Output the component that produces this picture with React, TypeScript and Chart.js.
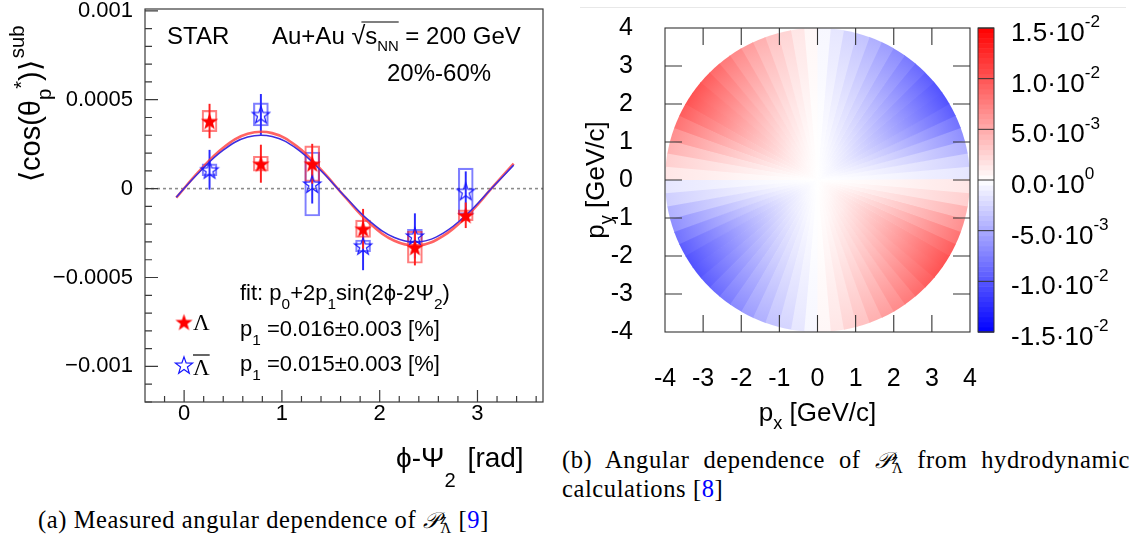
import React, { useEffect, useRef } from 'react';
import { Chart, registerables } from 'chart.js';

Chart.register(...registerables);

const SANS = '"Liberation Sans", Arial, Helvetica, sans-serif';
const SERIF = '"Liberation Serif", "Times New Roman", serif';

// ---------------- Panel (a): measured data ----------------
const PHI = [0.26, 0.785, 1.31, 1.83, 2.36, 2.88];
const LAMBDA = [0.00038, 0.00014, 0.00014, -0.000226, -0.00033, -0.00015];
const LAMBDA_STAT = [0.000095, 0.000105, 0.00011, 0.00011, 0.0001, 0.00007];
const LAMBDA_SYS = [0.00006, 0.000042, 0.0001, 0.000049, 0.00009, 0.00003];
const ALAMBDA = [0.000106, 0.000417, 0.000026, -0.000322, -0.000266, -0.000015];
const ALAMBDA_STAT = [0.00011, 0.000113, 0.000108, 0.000135, 0.000125, 0.00011];
const ALAMBDA_SYS = [0.000033, 0.000065, 0.00018, 0.000033, 0.000037, 0.00013];
const FIT_PHI = [-0.08, 0.15, 0.4, 0.65, 0.9, 1.15, 1.4, 1.65, 1.9, 2.15, 2.4, 2.65, 2.9, 3.15, 3.37];
const FIT_LAMBDA = [-0.000051, 0.000095, 0.00023, 0.000308, 0.000312, 0.000239, 0.000107, -0.00005, -0.000196, -0.000293, -0.000319, -0.000266, -0.000149, 0.000005, 0.00014];
const FIT_ALAMBDA = [-0.000048, 0.000089, 0.000216, 0.00029, 0.000293, 0.000225, 0.0001, -0.000047, -0.000184, -0.000275, -0.0003, -0.00025, -0.00014, 0.000005, 0.000132];
const A_Y_TICKS = [-0.001, -0.0005, 0, 0.0005, 0.001];
const A_Y_LABELS = ['\u22120.001', '\u22120.0005', '0', '0.0005', '0.001'];
const A_X_TICKS = [0, 1, 2, 3];
const A_X_LABELS = ['0', '1', '2', '3'];

// ---------------- Panel (b): hydro calculation ----------------
const P_TICKS = [-4, -3, -2, -1, 0, 1, 2, 3, 4];
const P_LABELS = ['-4', '-3', '-2', '-1', '0', '1', '2', '3', '4'];
// start angle (deg) of each 5-degree wedge in the upper half plane; the lower half repeats (180 deg symmetry)
const WEDGE_DEG = [0, 5, 10, 15, 20, 25, 30, 35, 40, 45, 50, 55, 60, 65, 70, 75, 80, 85,
  90, 95, 100, 105, 110, 115, 120, 125, 130, 135, 140, 145, 150, 155, 160, 165, 170, 175];
// polarization at the rim (p_T = 4 GeV/c) for each wedge
const EDGE_POL = [-0.0015, -0.0028, -0.0046, -0.0066, -0.0083, -0.0096, -0.0102, -0.0101, -0.0096, -0.0088, -0.0079, -0.0069, -0.0058, -0.0047, -0.0036, -0.0025, -0.0015, -0.0005,
  0.0005, 0.0015, 0.0025, 0.0036, 0.0047, 0.0058, 0.0069, 0.0079, 0.0088, 0.0096, 0.0101, 0.0102, 0.0096, 0.0083, 0.0066, 0.0046, 0.0028, 0.0015];
const RADIAL_R = [0, 0.5, 1, 1.5, 2, 2.5, 3, 3.5, 4];
const RADIAL_F = [0, 0.06, 0.15, 0.27, 0.4, 0.54, 0.69, 0.84, 1.0];
const CB_TICKS = [0.015, 0.01, 0.005, 0, -0.005, -0.01, -0.015];
const CB_MANT = ['1.5\u00b710', '1.0\u00b710', '5.0\u00b710', '0.0\u00b710', '-5.0\u00b710', '-1.0\u00b710', '-1.5\u00b710'];
const CB_EXP = ['-2', '-2', '-3', '0', '-3', '-2', '-2'];

type Seg = { t: string; s?: number; dy?: number; f?: string; gap?: number };

function richWidth(ctx: CanvasRenderingContext2D, segs: Seg[], size: number, family: string) {
  let w = 0;
  for (const g of segs) {
    ctx.font = `${size * (g.s ?? 1)}px ${g.f ?? family}`;
    w += ctx.measureText(g.t).width + (g.gap ?? 0);
  }
  return w;
}

function rich(ctx: CanvasRenderingContext2D, x: number, y: number, segs: Seg[], size: number, family: string) {
  const xs: number[] = [];
  let cx = x;
  for (const g of segs) {
    const sz = size * (g.s ?? 1);
    ctx.font = `${sz}px ${g.f ?? family}`;
    cx += g.gap ?? 0;
    xs.push(cx);
    ctx.fillText(g.t, cx, y + (g.dy ?? 0) * size);
    cx += ctx.measureText(g.t).width;
  }
  xs.push(cx);
  return xs;
}

function makeStar(size: number, R: number, fill: string | null, stroke: string | null, lw: number) {
  const c = document.createElement('canvas');
  c.width = size;
  c.height = size;
  const g = c.getContext('2d')!;
  const cx = size / 2;
  const cy = size / 2 + R * 0.1;
  const r = R * 0.4;
  g.beginPath();
  for (let k = 0; k < 10; k++) {
    const a = -Math.PI / 2 + (k * Math.PI) / 5;
    const rr = k % 2 === 0 ? R : r;
    g.lineTo(cx + rr * Math.cos(a), cy + rr * Math.sin(a));
  }
  g.closePath();
  if (fill) {
    g.fillStyle = fill;
    g.fill();
  }
  if (stroke) {
    g.strokeStyle = stroke;
    g.lineWidth = lw;
    g.stroke();
  }
  return c;
}

function polColor(v: number) {
  const max = CB_TICKS[0];
  const t = Math.max(-1, Math.min(1, v / max));
  if (t >= 0) {
    const c = Math.round(255 * (1 - t));
    return `rgb(255,${c},${c})`;
  }
  const c = Math.round(255 * (1 + t));
  return `rgb(${c},${c},255)`;
}

function makeChartA(canvas: HTMLCanvasElement) {
  const redStar = makeStar(21, 9, '#ff0000', null, 0);
  const blueStar = makeStar(22, 9, null, '#1515ff', 1.2);

  const framePlugin = {
    id: 'frameA',
    beforeDatasetsDraw(chart: any) {
      const { ctx, chartArea: a, scales } = chart;
      const y0 = scales.y.getPixelForValue(0);
      ctx.save();
      ctx.strokeStyle = '#8c8c8c';
      ctx.lineWidth = 1.6;
      ctx.setLineDash([3, 3]);
      ctx.beginPath();
      ctx.moveTo(a.left, y0);
      ctx.lineTo(a.right, y0);
      ctx.stroke();
      ctx.restore();
    },
    afterDraw(chart: any) {
      const { ctx, chartArea: a, scales } = chart;
      const { x, y } = scales;
      ctx.save();
      ctx.strokeStyle = '#3a3a3a';
      ctx.lineWidth = 1.2;
      ctx.strokeRect(a.left, a.top, a.right - a.left, a.bottom - a.top);
      ctx.beginPath();
      for (let k = -12; k <= 10; k++) {
        const py = y.getPixelForValue(k * 0.0001);
        const len = k % 5 === 0 ? 13 : 7;
        ctx.moveTo(a.left, py);
        ctx.lineTo(a.left + len, py);
      }
      for (let k = -2; k <= 18; k++) {
        const px = x.getPixelForValue(k * 0.2);
        if (px < a.left + 1 || px > a.right - 1) continue;
        const len = k % 5 === 0 ? 12 : 6;
        ctx.moveTo(px, a.bottom);
        ctx.lineTo(px, a.bottom - len);
      }
      ctx.stroke();

      // texts
      ctx.fillStyle = '#000';
      ctx.textBaseline = 'alphabetic';
      ctx.textAlign = 'left';
      rich(ctx, 167, 44, [{ t: 'STAR' }], 24, SANS);
      const xs = rich(ctx, 272, 44, [{ t: 'Au+Au ' }, { t: '\u221a', s: 1.05 }, { t: 's' }, { t: 'NN', s: 0.62, dy: 0.3 }, { t: ' = 200 GeV' }], 24, SANS);
      ctx.lineWidth = 1.1;
      ctx.strokeStyle = '#000';
      ctx.beginPath();
      ctx.moveTo(xs[1] + 10, 22);
      ctx.lineTo(xs[4], 22);
      ctx.stroke();
      rich(ctx, 387, 81, [{ t: '20%-60%' }], 24, SANS);
      rich(ctx, 240, 300, [{ t: 'fit: p' }, { t: '0', s: 0.7, dy: 0.42 }, { t: '+2p' }, { t: '1', s: 0.7, dy: 0.42 }, { t: 'sin(2\u03d5-2\u03a8' }, { t: '2', s: 0.7, dy: 0.42 }, { t: ')' }], 22, SANS);
      ctx.drawImage(redStar, 184 - redStar.width / 2, 322 - redStar.height / 2);
      rich(ctx, 193, 330, [{ t: '\u039b' }], 23, SERIF);
      rich(ctx, 240, 336, [{ t: 'p' }, { t: '1', s: 0.7, dy: 0.42 }, { t: ' =0.016\u00b10.003 [%]' }], 22, SANS);
      ctx.drawImage(blueStar, 184 - blueStar.width / 2, 365 - blueStar.height / 2);
      const lx = rich(ctx, 193, 375, [{ t: '\u039b' }], 23, SERIF);
      ctx.lineWidth = 1.2;
      ctx.beginPath();
      ctx.moveTo(lx[0], 355);
      ctx.lineTo(lx[1], 355);
      ctx.stroke();
      rich(ctx, 240, 371, [{ t: 'p' }, { t: '1', s: 0.7, dy: 0.42 }, { t: ' =0.015\u00b10.003 [%]' }], 22, SANS);

      // x title
      rich(ctx, 396, 467, [{ t: '\u03d5-\u03a8' }, { t: '2', s: 0.72, dy: 0.7 }, { t: '[rad]', gap: 12 }], 28, SANS);
      // y title
      ctx.save();
      ctx.translate(40, 182);
      ctx.rotate(-Math.PI / 2);
      rich(ctx, 0, 0, [{ t: '\u27e8cos(\u03b8' }, { t: 'p', s: 0.7, dy: 0.38 }, { t: '*', s: 0.7, dy: -0.42 }, { t: ')\u27e9' }, { t: 'sub', s: 0.7, dy: -0.55, gap: 2 }], 29, SANS);
      ctx.restore();
      ctx.restore();
    },
  };

  const pts = (ys: number[]) => PHI.map((x, i) => ({ x, y: ys[i] }));
  const rng = (ys: number[], es: number[]) => PHI.map((x, i) => ({ x, y: [ys[i] - es[i], ys[i] + es[i]] }));

  return new Chart(canvas, {
    type: 'scatter',
    data: {
      datasets: [
        { type: 'scatter', data: pts(LAMBDA), pointStyle: redStar as any, pointRadius: 8, order: 0 } as any,
        { type: 'scatter', data: pts(ALAMBDA), pointStyle: blueStar as any, pointRadius: 8, order: 0 } as any,
        { type: 'line', data: FIT_PHI.map((x, i) => ({ x, y: FIT_ALAMBDA[i] })), borderColor: '#3b2de0', borderWidth: 1.5, pointRadius: 0, tension: 0.4, fill: false, order: 1 } as any,
        { type: 'line', data: FIT_PHI.map((x, i) => ({ x, y: FIT_LAMBDA[i] })), borderColor: 'rgba(255,60,60,0.8)', borderWidth: 2.6, pointRadius: 0, tension: 0.4, fill: false, order: 2 } as any,
        { type: 'bar', data: rng(LAMBDA, LAMBDA_STAT), backgroundColor: '#ff2020', barThickness: 1.3, grouped: false, borderWidth: 0, order: 3 } as any,
        { type: 'bar', data: rng(ALAMBDA, ALAMBDA_STAT), backgroundColor: '#2a2aff', barThickness: 1.3, grouped: false, borderWidth: 0, order: 3 } as any,
        { type: 'bar', data: rng(LAMBDA, LAMBDA_SYS), backgroundColor: 'rgba(0,0,0,0)', borderColor: 'rgba(255,0,0,0.5)', borderWidth: 1.5, borderSkipped: false, barThickness: 15, grouped: false, order: 4 } as any,
        { type: 'bar', data: rng(ALAMBDA, ALAMBDA_SYS), backgroundColor: 'rgba(0,0,0,0)', borderColor: 'rgba(0,0,255,0.5)', borderWidth: 1.5, borderSkipped: false, barThickness: 15, grouped: false, order: 4 } as any,
      ],
    },
    options: {
      responsive: false,
      animation: false,
      events: [],
      layout: { padding: { top: 7, right: 17, left: 0, bottom: 0 } },
      plugins: { legend: { display: false }, tooltip: { enabled: false } },
      scales: {
        x: {
          type: 'linear',
          min: -0.4,
          max: 3.67,
          offset: false,
          grid: { display: false },
          border: { display: false },
          afterBuildTicks: (s: any) => { s.ticks = A_X_TICKS.map((v) => ({ value: v })); },
          afterFit: (s: any) => { s.height = 98; s.paddingLeft = 0; s.paddingRight = 0; },
          ticks: {
            autoSkip: false,
            maxRotation: 0,
            padding: -9,
            color: '#000',
            font: { family: SANS, size: 22 },
            callback: (v: any) => A_X_LABELS[A_X_TICKS.indexOf(v)],
          },
        },
        y: {
          type: 'linear',
          min: -0.0012,
          max: 0.00101,
          grid: { display: false },
          border: { display: false },
          afterBuildTicks: (s: any) => { s.ticks = A_Y_TICKS.map((v) => ({ value: v })); },
          afterFit: (s: any) => { s.width = 145; s.paddingTop = 0; s.paddingBottom = 0; },
          ticks: {
            padding: 4,
            color: '#000',
            font: { family: SANS, size: 22 },
            callback: (v: any) => A_Y_LABELS[A_Y_TICKS.indexOf(v)],
          },
        },
      },
    },
    plugins: [framePlugin],
  } as any);
}

function makeChartB(canvas: HTMLCanvasElement) {
  const diskPlugin = {
    id: 'disk',
    beforeDatasetsDraw(chart: any) {
      const { ctx, scales } = chart;
      const { x, y } = scales;
      const rMax = RADIAL_R[RADIAL_R.length - 1];
      const cx = x.getPixelForValue(0);
      const cy = y.getPixelForValue(0);
      const rx = x.getPixelForValue(rMax) - cx;
      const ry = cy - y.getPixelForValue(rMax);
      const step = WEDGE_DEG[1] - WEDGE_DEG[0];
      ctx.save();
      for (let half = 0; half < 2; half++) {
        WEDGE_DEG.forEach((d0, i) => {
          const a0 = ((d0 + 180 * half) * Math.PI) / 180;
          const a1 = ((d0 + step + 180 * half) * Math.PI) / 180;
          const g = ctx.createRadialGradient(cx, cy, 0, cx, cy, rx);
          RADIAL_R.forEach((r, k) => g.addColorStop(r / rMax, polColor(EDGE_POL[i] * RADIAL_F[k])));
          ctx.fillStyle = g;
          ctx.beginPath();
          ctx.moveTo(cx, cy);
          ctx.ellipse(cx, cy, rx, ry, 0, -a1 - 0.006, -a0, false);
          ctx.closePath();
          ctx.fill();
        });
      }
      ctx.restore();
    },
    afterDraw(chart: any) {
      const { ctx, chartArea: a, scales } = chart;
      const { x, y, cb } = scales;
      ctx.save();
      ctx.strokeStyle = '#333';
      ctx.lineWidth = 1.1;
      ctx.strokeRect(a.left, a.top, a.right - a.left, a.bottom - a.top);
      ctx.beginPath();
      const len = 17;
      P_TICKS.forEach((v) => {
        if (v === P_TICKS[0] || v === P_TICKS[P_TICKS.length - 1]) return;
        const px = x.getPixelForValue(v);
        const py = y.getPixelForValue(v);
        ctx.moveTo(px, a.bottom); ctx.lineTo(px, a.bottom - len);
        ctx.moveTo(px, a.top); ctx.lineTo(px, a.top + len);
        ctx.moveTo(a.left, py); ctx.lineTo(a.left + len, py);
        ctx.moveTo(a.right, py); ctx.lineTo(a.right - len, py);
      });
      ctx.stroke();

      // colour bar
      const x0 = a.right + 8;
      const w = 16;
      const vmax = CB_TICKS[0];
      const vmin = CB_TICKS[CB_TICKS.length - 1];
      const n = 60;
      for (let k = 0; k < n; k++) {
        const v0 = vmin + ((vmax - vmin) * k) / n;
        const v1 = vmin + ((vmax - vmin) * (k + 1)) / n;
        const p0 = cb.getPixelForValue(v0);
        const p1 = cb.getPixelForValue(v1);
        ctx.fillStyle = polColor((v0 + v1) / 2);
        ctx.fillRect(x0, p1, w, p0 - p1 + 0.5);
      }
      ctx.strokeStyle = '#333';
      ctx.lineWidth = 1;
      const ct = cb.getPixelForValue(vmax);
      const cbot = cb.getPixelForValue(vmin);
      ctx.strokeRect(x0, ct, w, cbot - ct);
      ctx.beginPath();
      CB_TICKS.forEach((v) => {
        const py = cb.getPixelForValue(v);
        ctx.moveTo(x0, py);
        ctx.lineTo(x0 + w, py);
      });
      ctx.stroke();
      ctx.fillStyle = '#000';
      ctx.textBaseline = 'alphabetic';
      ctx.textAlign = 'left';
      CB_TICKS.forEach((v, i) => {
        const py = cb.getPixelForValue(v);
        rich(ctx, a.right + 41, py + 13, [{ t: CB_MANT[i] }, { t: CB_EXP[i], s: 0.66, dy: -0.52 }], 26, SANS);
      });

      // axis titles
      const segX: Seg[] = [{ t: 'p' }, { t: 'x', s: 0.7, dy: 0.32 }, { t: ' [GeV/c]' }];
      const wx = richWidth(ctx, segX, 26, SANS);
      rich(ctx, (a.left + a.right) / 2 - wx / 2, 421, segX, 26, SANS);
      const segY: Seg[] = [{ t: 'p' }, { t: 'y', s: 0.7, dy: 0.32 }, { t: ' [GeV/c]' }];
      const wy = richWidth(ctx, segY, 26, SANS);
      ctx.save();
      ctx.translate(24, (a.top + a.bottom) / 2 + wy / 2);
      ctx.rotate(-Math.PI / 2);
      rich(ctx, 0, 0, segY, 26, SANS);
      ctx.restore();
      ctx.restore();
    },
  };

  const tickCfg = {
    autoSkip: false,
    maxRotation: 0,
    color: '#000',
    font: { family: SANS, size: 25 },
    callback: (v: any) => P_LABELS[P_TICKS.indexOf(v)],
  };

  return new Chart(canvas, {
    type: 'scatter',
    data: { datasets: [{ data: [], pointRadius: 0 }] },
    options: {
      responsive: false,
      animation: false,
      events: [],
      layout: { padding: { top: 28, right: 168, left: 0, bottom: 0 } },
      plugins: { legend: { display: false }, tooltip: { enabled: false } },
      scales: {
        x: {
          type: 'linear', min: -4, max: 4,
          grid: { display: false }, border: { display: false },
          afterBuildTicks: (s: any) => { s.ticks = P_TICKS.map((v) => ({ value: v })); },
          afterFit: (s: any) => { s.height = 108; s.paddingLeft = 0; s.paddingRight = 0; },
          ticks: { ...tickCfg, padding: 24 },
        },
        y: {
          type: 'linear', min: -4, max: 4,
          grid: { display: false }, border: { display: false },
          afterBuildTicks: (s: any) => { s.ticks = P_TICKS.map((v) => ({ value: v })); },
          afterFit: (s: any) => { s.width = 85; s.paddingTop = 0; s.paddingBottom = 0; },
          ticks: { ...tickCfg, padding: 24 },
        },
        cb: {
          type: 'linear', axis: 'y', position: 'right', display: false,
          min: CB_TICKS[CB_TICKS.length - 1], max: CB_TICKS[0],
        },
      },
    },
    plugins: [diskPlugin],
  } as any);
}

const capBase: React.CSSProperties = {
  position: 'absolute',
  fontFamily: SERIF,
  fontSize: 24.5,
  letterSpacing: '0.6px',
  lineHeight: '28px',
  color: '#000',
  whiteSpace: 'nowrap',
};

function PLam() {
  return (
    <span style={{ whiteSpace: 'nowrap' }}>
      <span style={{ fontStyle: 'italic', fontFamily: '"DejaVu Serif", "DejaVu Sans", serif', fontSize: '0.92em' }}>{'\u{1D4AB}'}</span>
      <span style={{ display: 'inline-block', verticalAlign: '-0.36em', lineHeight: '0.66em', fontSize: '0.6em', marginLeft: 1 }}>
        <span style={{ display: 'block', fontStyle: 'italic' }}>z</span>
        <span style={{ display: 'block' }}>{'\u039b'}</span>
      </span>
    </span>
  );
}

export default function App() {
  const aRef = useRef<HTMLCanvasElement>(null);
  const bRef = useRef<HTMLCanvasElement>(null);
  useEffect(() => {
    const ca = makeChartA(aRef.current!);
    const cb = makeChartB(bRef.current!);
    return () => {
      ca.destroy();
      cb.destroy();
    };
  }, []);
  return (
    <div style={{ position: 'fixed', left: 0, top: 0, width: 1138, height: 544, background: '#fff', overflow: 'hidden' }}>
      <canvas ref={aRef} width={560} height={500} style={{ position: 'absolute', left: 0, top: 0, width: 560, height: 500 }} />
      <div style={{ position: 'absolute', left: 580, top: 7, width: 546, height: 1, background: '#e8e8e8' }} />
      <canvas ref={bRef} width={558} height={440} style={{ position: 'absolute', left: 580, top: 0, width: 558, height: 440 }} />
      <div style={{ ...capBase, left: 562, top: 446, width: 568, whiteSpace: 'normal', textAlign: 'justify', textAlignLast: 'justify' as any }}>
        (b) Angular dependence of <PLam /> from hydrodynamic
      </div>
      <div style={{ ...capBase, left: 562, top: 475 }}>
        calculations [<span style={{ color: '#0000ff' }}>8</span>]
      </div>
      <div style={{ ...capBase, left: 38, top: 506 }}>
        (a) Measured angular dependence of <PLam /> [<span style={{ color: '#0000ff' }}>9</span>]
      </div>
    </div>
  );
}
